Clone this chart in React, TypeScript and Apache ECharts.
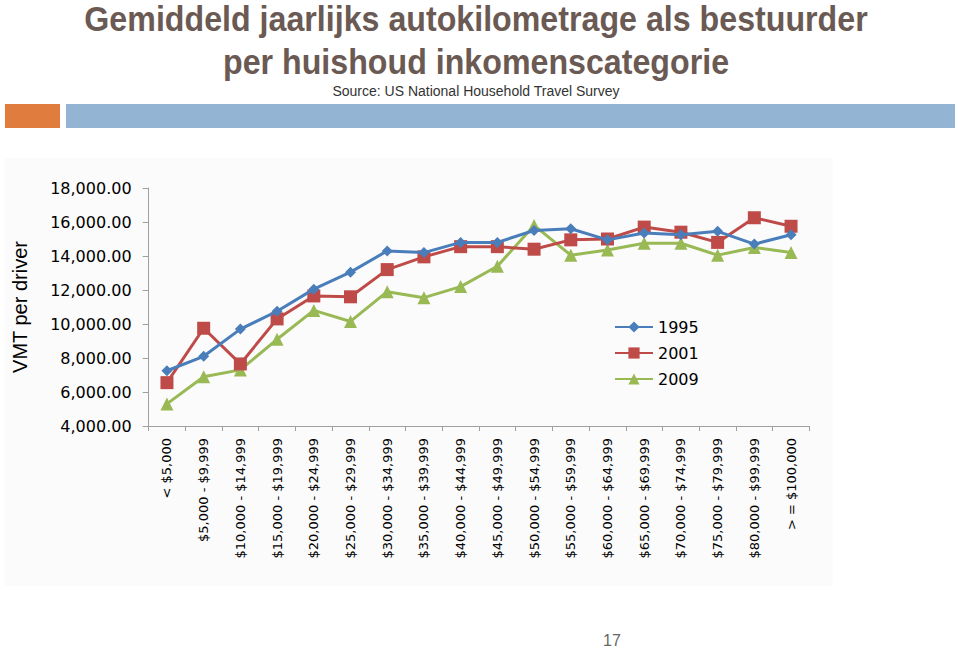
import React, { useEffect, useRef } from "react";
import * as echarts from "echarts";

const categories = [
  "< $5,000",
  "$5,000 - $9,999",
  "$10,000 - $14,999",
  "$15,000 - $19,999",
  "$20,000 - $24,999",
  "$25,000 - $29,999",
  "$30,000 - $34,999",
  "$35,000 - $39,999",
  "$40,000 - $44,999",
  "$45,000 - $49,999",
  "$50,000 - $54,999",
  "$55,000 - $59,999",
  "$60,000 - $64,999",
  "$65,000 - $69,999",
  "$70,000 - $74,999",
  "$75,000 - $79,999",
  "$80,000 - $99,999",
  "> = $100,000",
];

const series1995 = [7250, 8100, 9700, 10750, 12050, 13050, 14300, 14200, 14800, 14800, 15500, 15600, 14950, 15350, 15250, 15450, 14700, 15250];
const series2001 = [6550, 9750, 7650, 10300, 11650, 11600, 13200, 13950, 14550, 14550, 14400, 14950, 15000, 15700, 15400, 14800, 16250, 15750];
const series2009 = [5300, 6900, 7300, 9100, 10800, 10150, 11900, 11550, 12200, 13400, 15800, 14050, 14350, 14750, 14750, 14050, 14500, 14200];

const seriesNames = ["1995", "2001", "2009"];
const yTicks = { min: 4000, max: 18000, interval: 2000 };

const titleLine1 = "Gemiddeld jaarlijks autokilometrage als bestuurder";
const titleLine2 = "per huishoud inkomenscategorie";
const subtitle = "Source: US National Household Travel Survey";
const yAxisTitle = "VMT per driver";
const pageNumber = "17";

export default function App() {
  const ref = useRef<HTMLDivElement>(null);
  useEffect(() => {
    if (!ref.current) return;
    const chart = echarts.init(ref.current, null, { renderer: "svg" });
    const fmt = (v: number) =>
      v.toLocaleString("en-US", { minimumFractionDigits: 2, maximumFractionDigits: 2 });
    const titleFont = "bold 35px 'Liberation Sans', sans-serif";
    chart.setOption({
      animation: false,
      backgroundColor: "#ffffff",
      graphic: [
        { type: "rect", z: -10, shape: { x: 5, y: 158, width: 828, height: 428 }, style: { fill: "#fbfbfb" } },
        { type: "rect", shape: { x: 5, y: 104, width: 55, height: 24 }, style: { fill: "#e07c3e" } },
        { type: "rect", shape: { x: 66, y: 104, width: 889, height: 24 }, style: { fill: "#94b4d4" } },
        {
          type: "text", x: 476, y: 19.5, scaleX: 0.92,
          style: { text: titleLine1, fill: "#6b5a54", font: titleFont, align: "center", verticalAlign: "middle" },
        },
        {
          type: "text", x: 476, y: 62, scaleX: 0.92,
          style: { text: titleLine2, fill: "#6b5a54", font: titleFont, align: "center", verticalAlign: "middle" },
        },
        {
          type: "text", x: 476, y: 91,
          style: { text: subtitle, fill: "#333333", font: "14px 'Liberation Sans', sans-serif", align: "center", verticalAlign: "middle" },
        },
        {
          type: "text", x: 20, y: 307, rotation: Math.PI / 2,
          style: { text: yAxisTitle, fill: "#000000", font: "20px 'Liberation Sans', sans-serif", align: "center", verticalAlign: "middle" },
        },
        {
          type: "text", x: 612, y: 640,
          style: { text: pageNumber, fill: "#666666", font: "16px 'Liberation Sans', sans-serif", align: "center", verticalAlign: "middle" },
        },
      ],
      legend: {
        orient: "vertical",
        left: 609,
        top: 314,
        itemWidth: 38,
        itemHeight: 14,
        itemGap: 10,
        textStyle: { fontFamily: "'DejaVu Sans', sans-serif", fontSize: 16, color: "#000" },
        data: seriesNames,
      },
      grid: { left: 148.6, right: 149.6, top: 188, bottom: 224, containLabel: false },
      xAxis: {
        type: "category",
        data: categories,
        boundaryGap: true,
        axisLine: { lineStyle: { color: "#a0a0a0", width: 1 } },
        axisTick: { show: true, interval: 0, length: 5, lineStyle: { color: "#a0a0a0" } },
        axisLabel: {
          interval: 0,
          rotate: 90,
          margin: 12,
          fontFamily: "'DejaVu Sans', sans-serif",
          fontSize: 13,
          color: "#000",
        },
      },
      yAxis: {
        type: "value",
        min: yTicks.min,
        max: yTicks.max,
        interval: yTicks.interval,
        splitLine: { show: false },
        axisLine: { show: true, lineStyle: { color: "#a0a0a0" } },
        axisTick: { show: true, length: 6, lineStyle: { color: "#a0a0a0" } },
        axisLabel: {
          formatter: fmt,
          margin: 17,
          fontFamily: "'DejaVu Sans', sans-serif",
          fontSize: 16,
          color: "#000",
        },
      },
      series: [
        {
          name: seriesNames[0], type: "line", data: series1995,
          symbol: "diamond", symbolSize: 11,
          lineStyle: { color: "#4a7ebb", width: 3 }, itemStyle: { color: "#4a7ebb" }, z: 3,
        },
        {
          name: seriesNames[1], type: "line", data: series2001,
          symbol: "rect", symbolSize: 13,
          lineStyle: { color: "#be4b48", width: 3 }, itemStyle: { color: "#be4b48" }, z: 2,
        },
        {
          name: seriesNames[2], type: "line", data: series2009,
          symbol: "triangle", symbolSize: 13,
          lineStyle: { color: "#98b954", width: 3 }, itemStyle: { color: "#98b954" }, z: 1,
        },
      ],
    });
    return () => chart.dispose();
  }, []);
  return (
    <div
      ref={ref}
      style={{ position: "absolute", left: 0, top: 0, width: 959, height: 650 }}
    />
  );
}
